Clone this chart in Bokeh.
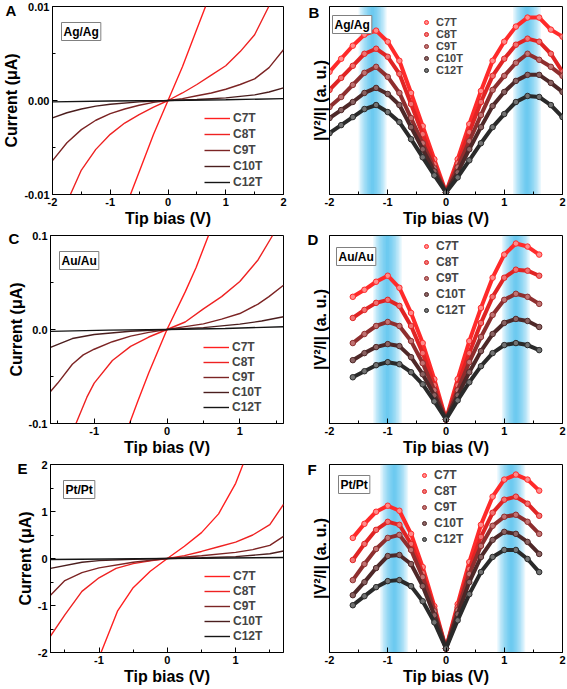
from bokeh.plotting import figure
from bokeh.layouts import column, row
from bokeh.models import (Range1d, FixedTicker, NumeralTickFormatter, Label,
                          Legend, LegendItem, BoxAnnotation)
from bokeh.embed import file_html
from bokeh.resources import INLINE

FONT = "Liberation Sans"
series = ["C7T", "C8T", "C9T", "C10T", "C12T"]

# ---------------- colours ----------------
iv_colors = ["#ff1f1f", "#ee2222", "#7c2424", "#4a1e1e", "#151515"]
sp_line = ["#ff2a2a", "#e02424", "#8e2e2e", "#4e2828", "#2a2a2a"]
sp_fill = ["#ff8c8c", "#f07272", "#c07272", "#8a6262", "#727272"]
band_color = "#2bb3ec"

# ---------------- panel A: Ag/Ag I-V ----------------
A_C7T_V = [-0.65, -0.5, -0.25, 0, 0.25, 0.5, 0.65]
A_C7T_I = [-0.010, -0.0076, -0.0036, 0, 0.0036, 0.0076, 0.010]
A_C8T_V = [-1.69, -1.5, -1.25, -1.0, -0.75, -0.5, -0.25, 0, 0.25, 0.5, 0.75, 1.0, 1.25, 1.5, 1.745]
A_C8T_I = [-0.010, -0.0074, -0.0052, -0.0036, -0.0024, -0.0015, -0.0007, 0, 0.0008, 0.0017,
           0.0027, 0.0037, 0.0052, 0.0070, 0.010]
A_C9T_V = [-2.0, -1.75, -1.5, -1.25, -1.0, -0.75, -0.5, -0.25, 0, 0.25, 0.5, 0.75, 1.0, 1.25, 1.5, 1.75, 2.0]
A_C9T_I = [-0.0064, -0.0045, -0.0031, -0.0021, -0.0014, -0.0009, -0.0005, -0.0002, 0, 0.0002,
           0.0005, 0.0008, 0.0012, 0.0017, 0.0023, 0.0035, 0.0054]
A_C10T_V = [-2.0, -1.75, -1.5, -1.25, -1.0, -0.5, 0, 0.5, 1.0, 1.5, 1.75, 2.0]
A_C10T_I = [-0.00185, -0.0013, -0.0009, -0.0006, -0.0004, -0.00015, 0, 0.0001, 0.00028,
            0.0006, 0.0009, 0.00135]
A_C12T_V = [-2.0, -1.0, 0, 1.0, 2.0]
A_C12T_I = [-0.00015, -0.00006, 0, 0.00008, 0.0002]

# ---------------- panel C: Au/Au I-V ----------------
C_C7T_V = [-0.515, -0.4, -0.25, 0, 0.25, 0.4, 0.57]
C_C7T_I = [-0.1, -0.076, -0.046, 0, 0.040, 0.066, 0.1]
C_C8T_V = [-1.25, -1.1, -1.0, -0.75, -0.5, -0.25, 0, 0.25, 0.5, 0.75, 1.0, 1.25, 1.45]
C_C8T_I = [-0.1, -0.072, -0.057, -0.033, -0.018, -0.008, 0, 0.008, 0.022, 0.035, 0.051, 0.074, 0.1]
C_C9T_V = [-1.6, -1.5, -1.3, -1.15, -1.0, -0.75, -0.5, -0.25, 0, 0.25, 0.5, 0.75, 1.0, 1.25, 1.4, 1.6]
C_C9T_I = [-0.066, -0.057, -0.037, -0.027, -0.021, -0.013, -0.007, -0.003, 0, 0.003, 0.006,
           0.011, 0.017, 0.027, 0.035, 0.047]
C_C10T_V = [-1.6, -1.3, -1.0, -0.5, 0, 0.5, 1.0, 1.3, 1.6]
C_C10T_I = [-0.019, -0.0096, -0.0053, -0.0018, 0, 0.002, 0.0057, 0.009, 0.0135]
C_C12T_V = [-1.6, -0.8, 0, 0.8, 1.6]
C_C12T_I = [-0.002, -0.0007, 0, 0.001, 0.003]

# ---------------- panel E: Pt/Pt I-V ----------------
E_C7T_V = [-0.97, -0.73, -0.5, -0.25, 0, 0.25, 0.5, 0.75, 1.0, 1.107]
E_C7T_I = [-2.0, -1.12, -0.62, -0.27, 0, 0.26, 0.55, 0.95, 1.6, 2.0]
E_C8T_V = [-1.71, -1.5, -1.25, -1.0, -0.75, -0.5, -0.25, 0, 0.25, 0.5, 0.75, 1.0, 1.25, 1.5, 1.7]
E_C8T_I = [-1.65, -1.2, -0.70, -0.41, -0.21, -0.11, -0.05, 0, 0.06, 0.15, 0.25, 0.35, 0.5, 0.72, 1.15]
E_C9T_V = [-1.71, -1.5, -1.25, -1.0, -0.5, 0, 0.5, 1.0, 1.25, 1.5, 1.7]
E_C9T_I = [-0.78, -0.47, -0.3, -0.2, -0.08, 0, 0.06, 0.13, 0.19, 0.28, 0.47]
E_C10T_V = [-1.71, -1.25, -1.0, -0.5, 0, 0.5, 1.0, 1.5, 1.7]
E_C10T_I = [-0.21, -0.08, -0.045, -0.015, 0, 0.015, 0.04, 0.1, 0.16]
E_C12T_V = [-1.71, 0, 1.7]
E_C12T_I = [-0.02, 0, 0.02]

# ---------------- panel B: Ag/Ag |V^2/I| (a.u.) ----------------
B_V = [-2.0, -1.8, -1.6, -1.4, -1.2, -1.0, -0.8, -0.6, -0.4, -0.2, 0,
       0.2, 0.4, 0.6, 0.8, 1.0, 1.2, 1.4, 1.6, 1.8, 2.0]
B_C7T = [122, 135, 148, 159, 163, 152, 133, 101, 68, 35, 2, 35, 70, 103, 133, 152, 167, 176, 176, 164, 157]
B_C8T = [104, 116, 128, 140, 145, 137, 120, 90, 60, 30, 2, 31, 62, 92, 118, 135, 149, 155, 152, 140, 122]
B_C9T = [87, 97, 109, 121, 127, 117, 101, 76, 51, 26, 2, 27, 53, 79, 104, 118, 131, 140, 134, 127, 118]
B_C10T = [76, 84, 92, 101, 106, 100, 89, 67, 45, 23, 2, 22, 45, 67, 88, 102, 113, 119, 119, 111, 102]
B_C12T = [61, 69, 77, 85, 89, 82, 72, 55, 37, 19, 2, 17, 34, 51, 67, 80, 92, 98, 97, 89, 77]

# ---------------- panel D: Au/Au ----------------
D_V = [-1.6, -1.4, -1.2, -1.0, -0.8, -0.6, -0.4, -0.2, 0, 0.2, 0.4, 0.6, 0.8, 1.0, 1.2, 1.4, 1.6]
D_C7T = [126, 133, 141, 147, 135, 110, 80, 44, 4, 44, 82, 115, 145, 168, 179, 176, 168]
D_C8T = [105, 113, 120, 123, 117, 97, 70, 38, 4, 38, 70, 100, 126, 145, 153, 152, 147]
D_C9T = [80, 89, 97, 101, 97, 82, 60, 33, 4, 33, 61, 86, 108, 123, 129, 126, 119]
D_C10T = [63, 70, 76, 79, 77, 66, 49, 28, 4, 28, 51, 72, 89, 100, 104, 102, 96]
D_C12T = [46, 52, 58, 61, 59, 51, 39, 22, 4, 23, 41, 57, 70, 78, 80, 78, 73]

# ---------------- panel F: Pt/Pt ----------------
F_V = [-1.6, -1.4, -1.2, -1.0, -0.8, -0.6, -0.4, -0.2, 0, 0.2, 0.4, 0.6, 0.8, 1.0, 1.2, 1.4, 1.6]
F_C7T = [114, 128, 140, 146, 141, 118, 85, 46, 4, 48, 90, 127, 155, 172, 177, 172, 161]
F_C8T = [92, 108, 122, 130, 127, 108, 79, 43, 4, 45, 83, 115, 139, 152, 155, 148, 136]
F_C9T = [72, 88, 103, 114, 117, 102, 75, 41, 4, 42, 78, 106, 126, 135, 137, 130, 118]
F_C10T = [57, 70, 84, 96, 97, 88, 66, 37, 4, 38, 70, 95, 112, 120, 118, 110, 98]
F_C12T = [47, 56, 65, 71, 72, 66, 51, 30, 4, 32, 58, 80, 95, 102, 102, 93, 80]

# highlighted bias windows (V)
B_bands = [(-1.50, -1.02), (1.15, 1.63)]
D_bands = [(-1.25, -0.76), (0.96, 1.44)]
F_bands = [(-1.13, -0.65), (0.88, 1.36)]

# axis ranges / ticks
A_xr, A_yr = (-2, 2), (-0.01, 0.01)
C_xr, C_yr = (-1.6, 1.6), (-0.1, 0.1)
E_xr, E_yr = (-1.71, 1.7), (-2, 2)
S_xr, S_yr = (-2, 2), (0, 187)

# ---------------- layout constants ----------------
ROW_H = 229
LW, RW = 287, 279
BT, BB = 6, 35
LBL, LBR = 50, 4
RBL, RBR = 42, 4
FRAME_H = ROW_H - BT - BB
LFW = LW - LBL - LBR
RFW = RW - RBL - RBR


def style_axis(ax):
    ax.axis_line_color = "black"
    ax.axis_line_width = 1
    ax.major_tick_in = 5
    ax.major_tick_out = 0
    ax.minor_tick_in = 3
    ax.minor_tick_out = 0
    ax.major_tick_line_color = "black"
    ax.minor_tick_line_color = "black"
    ax.major_label_text_font = FONT
    ax.major_label_text_font_style = "bold"
    ax.major_label_text_font_size = "11px"
    ax.major_label_text_color = "black"
    ax.major_label_standoff = 3
    ax.axis_label_text_font = FONT
    ax.axis_label_text_font_style = "bold"
    ax.axis_label_text_font_size = "16px"
    ax.axis_label_text_color = "black"
    ax.axis_label_standoff = 1


def make_fig(width, bl, br, xr, yr):
    p = figure(width=width, height=ROW_H, x_range=Range1d(*xr), y_range=Range1d(*yr),
               output_backend="svg", toolbar_location=None,
               min_border_left=bl, min_border_right=br,
               min_border_top=BT, min_border_bottom=BB)
    p.grid.visible = False
    p.outline_line_color = "black"
    p.outline_line_width = 1
    p.outline_line_alpha = 1
    p.background_fill_color = "white"
    p.border_fill_color = "white"
    style_axis(p.xaxis[0])
    style_axis(p.yaxis[0])
    p.xaxis.axis_label = "Tip bias (V)"
    return p


def add_letter(p, text, dx, baseline):
    # panel letter, drawn as the figure title, pulled down beside the frame
    p.title.text = text
    p.title.align = "left"
    p.title.vertical_align = "bottom"
    p.title.offset = dx
    p.title.standoff = -2 * (baseline + 3)
    p.title.text_font = FONT
    p.title.text_font_style = "bold"
    p.title.text_font_size = "15px"
    p.title.text_color = "black"


def add_box(p, text, xr, yr, dx, dy):
    p.add_layout(Label(x=xr[0], y=yr[1], x_offset=dx + 2, y_offset=-(dy + 2), text=text,
                       text_font=FONT, text_font_style="bold", text_font_size="12px",
                       text_baseline="top", text_align="left", text_color="black",
                       border_line_color="#808080", border_line_width=1,
                       background_fill_color="white", padding=2))


def iv_panel(width, bl, br, xr, yr, vs, cs, yfmt, yticks, yminor, xticks, xminor,
             letter, ldx, lbase, tag, bdx, bdy, leg_x, leg_y, leg_sp):
    p = make_fig(width, bl, br, xr, yr)
    p.yaxis.axis_label = "Current (\u03bcA)"
    p.xaxis.ticker = FixedTicker(ticks=xticks, minor_ticks=xminor)
    p.yaxis.ticker = FixedTicker(ticks=yticks, minor_ticks=yminor)
    p.yaxis.formatter = NumeralTickFormatter(format=yfmt)
    p.xaxis.formatter = NumeralTickFormatter(format="0")
    items = []
    for name, (v, c), col in zip(series, zip(vs, cs), iv_colors):
        r = p.line(v, c, line_color=col, line_width=1.4)
        items.append(LegendItem(label=name, renderers=[r]))
    leg = Legend(items=items, location=(leg_x, leg_y), padding=0, margin=0,
                 spacing=leg_sp, glyph_width=26, glyph_height=14, label_height=14,
                 label_standoff=3, label_text_font=FONT, label_text_font_style="bold",
                 label_text_font_size="12px", background_fill_alpha=0, border_line_alpha=0)
    p.add_layout(leg)
    add_letter(p, letter, ldx, lbase)
    add_box(p, tag, xr, yr, bdx, bdy)
    return p


def sp_panel(xs, ys_list, bands, letter, ldx, lbase, tag, bdx, bdy, leg_x, leg_y, leg_sp, leg_fs):
    p = make_fig(RW, RBL, RBR, S_xr, S_yr)
    p.yaxis.axis_label = "|V\u00b2/I| (a. u.)"
    p.xaxis.ticker = FixedTicker(ticks=[-2, -1, 0, 1, 2], minor_ticks=[-1.5, -0.5, 0.5, 1.5])
    p.xaxis.formatter = NumeralTickFormatter(format="0")
    p.yaxis.ticker = FixedTicker(ticks=[], minor_ticks=[])
    p.yaxis.major_label_text_font_size = "0px"
    n = 10
    for (l, r) in bands:
        half = (r - l) / 2.0
        mid = (l + r) / 2.0
        for k in range(n):
            w = half * (1 - k / n)
            p.add_layout(BoxAnnotation(left=mid - w, right=mid + w, fill_color=band_color,
                                       fill_alpha=0.11, line_alpha=0, level="underlay"))
    items = []
    for name, ys, lc, fc in zip(series, ys_list, sp_line, sp_fill):
        p.line(xs, ys, line_color=lc, line_width=4)
        r = p.scatter(xs, ys, marker="circle", size=5.5, fill_color=fc, line_color=lc, line_width=1)
        items.append(LegendItem(label=name, renderers=[r]))
    leg = Legend(items=items, location=(leg_x, leg_y), padding=0, margin=0,
                 spacing=leg_sp, glyph_width=10, glyph_height=10, label_height=10,
                 label_standoff=5, label_text_font=FONT, label_text_font_style="bold",
                 label_text_font_size=leg_fs, background_fill_alpha=0, border_line_alpha=0)
    p.add_layout(leg)
    add_letter(p, letter, ldx, lbase)
    add_box(p, tag, S_xr, S_yr, bdx, bdy)
    return p


pA = iv_panel(LW, LBL, LBR, A_xr, A_yr,
              [A_C7T_V, A_C8T_V, A_C9T_V, A_C10T_V, A_C12T_V],
              [A_C7T_I, A_C8T_I, A_C9T_I, A_C10T_I, A_C12T_I],
              "0.00", [-0.01, 0, 0.01], [-0.005, 0.005],
              [-2, -1, 0, 1, 2], [-1.5, -0.5, 0.5, 1.5],
              "A", -47, 9, "Ag/Ag", 7, 14, 152, 5, 2)
pC = iv_panel(LW, LBL, LBR, C_xr, C_yr,
              [C_C7T_V, C_C8T_V, C_C9T_V, C_C10T_V, C_C12T_V],
              [C_C7T_I, C_C8T_I, C_C9T_I, C_C10T_I, C_C12T_I],
              "0.0", [-0.1, 0, 0.1], [-0.05, 0.05],
              [-1, 0, 1], [-1.5, -0.5, 0.5, 1.5],
              "C", -42, 8, "Au/Au", 7, 14, 153, 9, 1)
pE = iv_panel(LW, LBL, LBR, E_xr, E_yr,
              [E_C7T_V, E_C8T_V, E_C9T_V, E_C10T_V, E_C12T_V],
              [E_C7T_I, E_C8T_I, E_C9T_I, E_C10T_I, E_C12T_I],
              "0", [-2, -1, 0, 1, 2], [-1.5, -0.5, 0.5, 1.5],
              [-1, 0, 1], [-1.5, -0.5, 0.5, 1.5],
              "E", -33, 9, "Pt/Pt", 11, 14, 154, 9, 1)

pB = sp_panel(B_V, [B_C7T, B_C8T, B_C9T, B_C10T, B_C12T], B_bands,
              "B", -21, 11, "Ag/Ag", 1, 7, 92, FRAME_H - 10 - 60, 0, "11px")
pD = sp_panel(D_V, [D_C7T, D_C8T, D_C9T, D_C10T, D_C12T], D_bands,
              "D", -22, 9, "Au/Au", 5, 10, 92, FRAME_H - 4 - 78, 2, "12px")
pF = sp_panel(F_V, [F_C7T, F_C8T, F_C9T, F_C10T, F_C12T], F_bands,
              "F", -22, 10, "Pt/Pt", 7, 9, 90, FRAME_H - 4 - 78, 2, "12px")

layout = column(row(pA, pB), row(pC, pD), row(pE, pF))

with open("out.html", "w") as f:
    f.write(file_html(layout, INLINE))
